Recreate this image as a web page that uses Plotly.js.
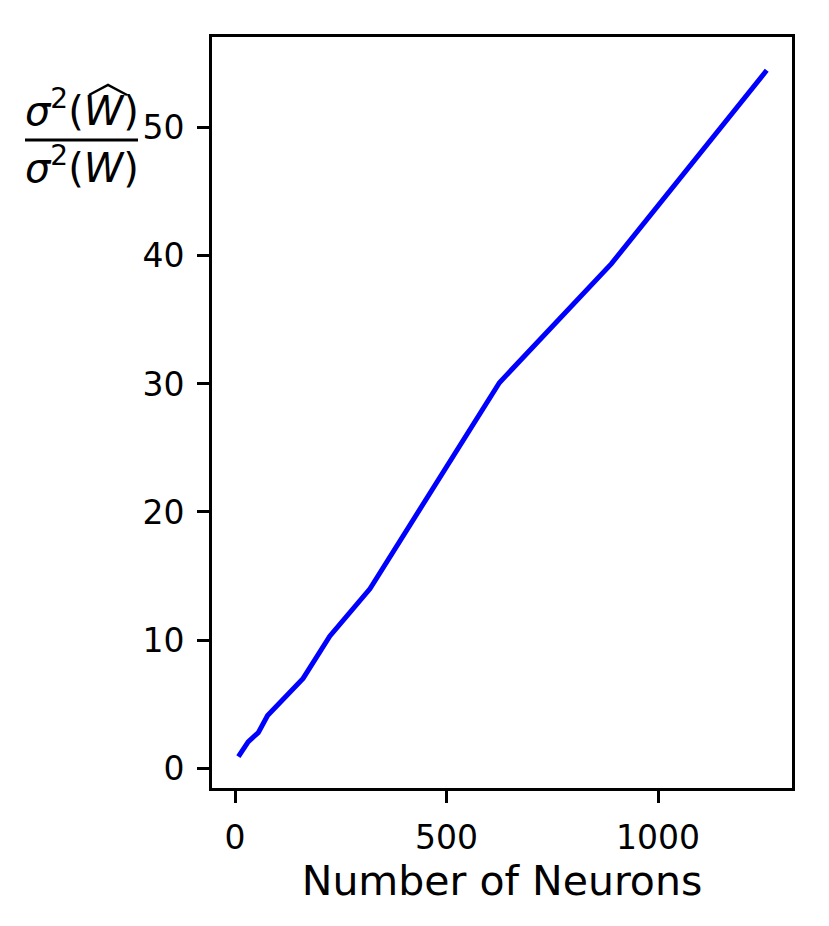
<!DOCTYPE html>
<html>
<head>
<meta charset="utf-8">
<script src="https://cdn.plot.ly/plotly-3.0.1.min.js"></script>
<style>html,body{margin:0;padding:0;background:#fff;}</style>
</head>
<body>
<div id="chart" style="width:829px;height:926px;"></div>
<script>
// Data
const neurons = [8, 31, 55, 77, 161, 224, 319, 625, 890, 1257];
const varianceRatio = [0.9, 2.05, 2.76, 4.1, 7.0, 10.3, 14.0, 30.1, 39.4, 54.5];
const xTicks = [0, 500, 1000];
const yTicks = [0, 10, 20, 30, 40, 50];
const xLabel = 'Number of Neurons';

// plot-area geometry (pixels) for placing the fraction-style y label
const L = 212, R = 792, T = 37, B = 788;
const px = x => (x - L) / (R - L);
const py = y => (B - y) / (B - T);

const font = 'DejaVu Sans, sans-serif';

const trace = {
  x: neurons, y: varianceRatio, type: 'scatter', mode: 'lines',
  line: {color: '#0000ff', width: 5}, hoverinfo: 'skip'
};

const axisCommon = {
  showgrid: false, zeroline: false, showline: true, mirror: true,
  linecolor: '#000', linewidth: 3, ticks: 'outside', ticklen: 12, tickwidth: 3,
  tickcolor: '#000', tickfont: {family: font, size: 33, color: '#000'},
  ticklabelstandoff: 6
};

const layout = {
  width: 829, height: 926,
  margin: {l: L, r: 829 - R, t: T, b: 926 - B},
  paper_bgcolor: '#fff', plot_bgcolor: '#fff',
  showlegend: false,
  xaxis: Object.assign({}, axisCommon, {
    range: [-54.4, 1316.8], tickvals: xTicks, ticktext: xTicks.map(String),
    title: {text: xLabel, font: {family: font, size: 41, color: '#000'}, standoff: 10}
  }),
  yaxis: Object.assign({}, axisCommon, {
    range: [-1.56, 57.1], tickvals: yTicks, ticktext: yTicks.map(String)
  }),
  annotations: [
    {xref: 'paper', yref: 'paper', x: px(82), y: py(108), xanchor: 'center', yanchor: 'middle',
     text: '<i>σ</i><sup>2</sup>(<i>W</i>)', showarrow: false,
     font: {family: font, size: 40, color: '#000'}},
    {xref: 'paper', yref: 'paper', x: px(82), y: py(165), xanchor: 'center', yanchor: 'middle',
     text: '<i>σ</i><sup>2</sup>(<i>W</i>)', showarrow: false,
     font: {family: font, size: 40, color: '#000'}}
  ],
  shapes: [
    {type: 'line', xref: 'paper', yref: 'paper', x0: px(25), x1: px(138), y0: py(140), y1: py(140),
     line: {color: '#000', width: 3}},
    {type: 'path', xref: 'paper', yref: 'paper',
     path: 'M ' + px(89) + ' ' + py(95) + ' L ' + px(108) + ' ' + py(85) + ' L ' + px(127) + ' ' + py(95),
     line: {color: '#000', width: 2.5}}
  ]
};

Plotly.newPlot('chart', [trace], layout, {staticPlot: true, displayModeBar: false});
</script>
</body>
</html>
